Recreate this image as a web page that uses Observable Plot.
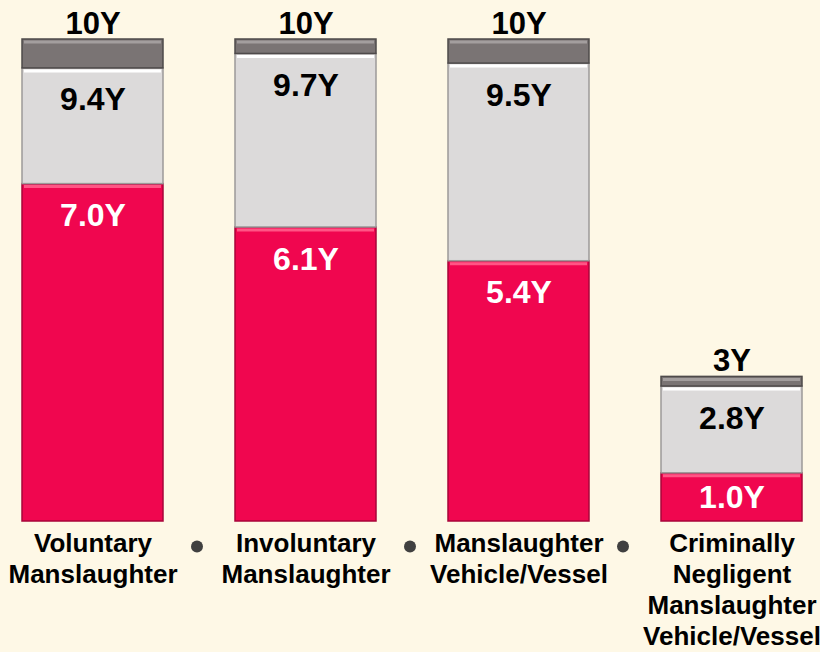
<!DOCTYPE html>
<html>
<head>
<meta charset="utf-8">
<script src="https://cdn.jsdelivr.net/npm/d3@7"></script>
<script src="https://cdn.jsdelivr.net/npm/@observablehq/plot@0.6"></script>
<style>
  html, body { margin: 0; padding: 0; background: #FEF8E6; }
  #chart { width: 820px; height: 652px; overflow: hidden; }
</style>
</head>
<body>
<div id="chart"></div>
<script>
const categories = [
  "Voluntary\nManslaughter",
  "Involuntary\nManslaughter",
  "Manslaughter\nVehicle/Vessel",
  "Criminally\nNegligent\nManslaughter\nVehicle/Vessel"
];
const lowValues = [7.0, 6.1, 5.4, 1.0];
const midValues = [9.4, 9.7, 9.5, 2.8];
const maxValues = [10, 10, 10, 3];
const lowLabels = ["7.0Y", "6.1Y", "5.4Y", "1.0Y"];
const midLabels = ["9.4Y", "9.7Y", "9.5Y", "2.8Y"];
const maxLabels = ["10Y", "10Y", "10Y", "3Y"];

const RED = "#F0064F", RED_HI = "#FF5585", RED_SH = "#A8043A";
const LG = "#DCDADA", LG_HI = "#FFFFFF", LG_SH = "#9C9999";
const DG = "#7A7474", DG_HI = "#A39E9E", DG_SH = "#4E4A4A";

const segs = [];
categories.forEach((c, i) => {
  segs.push({cat: c, y1: 0, y2: lowValues[i], fill: RED, hi: RED_HI, sh: RED_SH, label: lowLabels[i], color: "#fff"});
  segs.push({cat: c, y1: lowValues[i], y2: midValues[i], fill: LG, hi: LG_HI, sh: LG_SH, label: midLabels[i], color: "#000"});
  segs.push({cat: c, y1: midValues[i], y2: maxValues[i], fill: DG, hi: DG_HI, sh: DG_SH, label: null, color: "#000"});
});
const labelled = segs.filter(d => d.label);
const tops = categories.map((c, i) => ({cat: c, v: maxValues[i], label: maxLabels[i]}));
const dotsData = categories.slice(0, 3);

const font = "'Liberation Sans', Arial, sans-serif";

const chart = Plot.plot({
  width: 820,
  height: 652,
  marginLeft: 20,
  marginRight: 16,
  marginTop: 39,
  marginBottom: 131,
  style: {background: "#FEF8E6", fontFamily: font},
  x: {domain: categories, paddingInner: 0.336, paddingOuter: 0, axis: null},
  y: {domain: [0, 10], axis: null},
  marks: [
    Plot.barY(segs, {x: "cat", y1: "y1", y2: "y2", fill: d => d.fill, stroke: d => d.sh, strokeWidth: 1.5, inset: 0}),
    Plot.tickY(segs, {x: "cat", y: "y2", stroke: d => d.hi, strokeWidth: 3, dy: 2.5, inset: 2}),
    Plot.text(labelled, {
      x: "cat",
      y: d => d.y2 - Math.min(0.66, (d.y2 - d.y1) / 2),
      text: "label",
      fill: d => d.color,
      fontSize: 32,
      fontWeight: "bold"
    }),
    Plot.text(tops, {x: "cat", y: "v", text: "label", fontSize: 31, fontWeight: "bold", fill: "#000", lineAnchor: "bottom", dy: -6}),
    Plot.text(categories, {x: d => d, y: 0, text: d => d, fontSize: 26, fontWeight: "bold", fill: "#000", lineAnchor: "top", lineHeight: 1.19, dy: 9}),
    Plot.dot(dotsData, {x: d => d, y: 0, dx: 104, dy: 25, r: 6, fill: "#404040", stroke: null})
  ]
});
document.getElementById("chart").appendChild(chart);
</script>
</body>
</html>
